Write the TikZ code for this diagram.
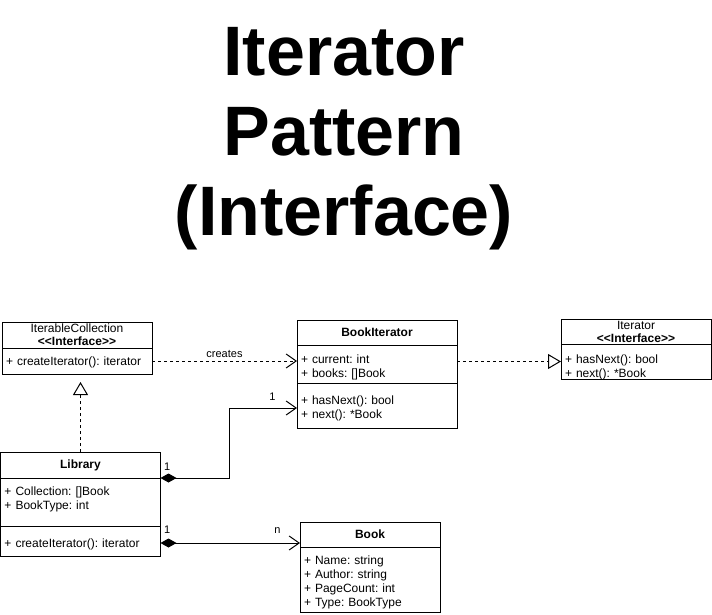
\documentclass[tikz,border=0pt]{standalone}
\usepackage{fontspec}
\setmainfont{Liberation Sans}
\usetikzlibrary{positioning}
\usetikzlibrary{arrows.meta}
\frenchspacing
\newcommand{\Iface}{\textbf{<{}<Interface>{}>}}
\newcommand{\Small}{\fontsize{12}{13}\selectfont}
\newcommand{\Tiny}{\fontsize{11}{13}\selectfont}
\tikzstyle{head} = [draw, align=center, inner sep=0pt, outer sep=0pt, font=\Small]
\tikzstyle{headB} = [head, font=\Small\bfseries]
\tikzstyle{body} = [draw, align=left, inner xsep=4pt, inner ysep=0pt, outer sep=0pt, font=\fontsize{12}{14}\selectfont]
\tikzstyle{dep} = [dashed, -{Straight Barb[length=10pt,width=14pt]}]
\tikzstyle{real} = [dashed, -{Triangle[open,length=13pt,width=15pt,fill=white]}]
\tikzstyle{comp} = [{Diamond[length=16pt,width=9pt]}-{Straight Barb[length=10pt,width=14pt]}]
\tikzstyle{mult} = [inner sep=0pt, font=\Tiny]

\begin{document}
\begin{tikzpicture}[x=1pt, y=-1pt, line width=1pt]
\useasboundingbox[fill=white] (0,0) rectangle (712,615);

% Title
\node[font=\fontsize{70}{80}\selectfont\bfseries, align=center, anchor=base] (title) at (344,235) {Iterator\\Pattern\\(Interface)};

% Define nodes
\node[head, minimum width=150pt, minimum height=26pt, anchor=north west] (ich) at (2,322) {IterableCollection\\\Iface};
\node[body, below=0pt of ich, text width=142pt, text height=17pt, text depth=9pt]   (icm) {+ createIterator(): iterator};

\node[headB, minimum width=160pt, minimum height=25pt, anchor=north west] (bih) at (297,320) {BookIterator};
\node[body, below=0pt of bih, text width=152pt, text height=18pt, text depth=20pt]  (bia) {+ current: int\\+ books: []Book};
\node[body, below=0pt of bia, text width=152pt, text height=21pt, text depth=24pt]  (bim) {+ hasNext(): bool\\+ next(): *Book};

\node[head, minimum width=150pt, minimum height=25pt, anchor=north west] (ith) at (561,319) {Iterator\\\Iface};
\node[body, below=0pt of ith, text width=142pt, text height=19pt, text depth=16pt]  (itm) {+ hasNext(): bool\\+ next(): *Book};

\node[headB, minimum width=160pt, minimum height=26pt, anchor=north west] (libh) at (0.5,452) {Library};
\node[body, below=0pt of libh, text width=152pt, text height=17pt, text depth=31pt] (liba) {+ Collection: []Book\\+ BookType: int};
\node[body, below=0pt of liba, text width=152pt, text height=21pt, text depth=9pt]  (libm) {+ createIterator(): iterator};

\node[headB, minimum width=140pt, minimum height=25pt, anchor=north west] (bkh) at (300,522) {Book};
\node[body, below=0pt of bkh, text width=132pt, text height=17pt, text depth=48pt]  (bka) {+ Name: string\\+ Author: string\\+ PageCount: int\\+ Type: BookType};

% Edges
\draw[dep] (icm.east) -- node[midway, above, font=\Tiny] (cr) {creates} (icm.east -| bia.west);
\draw[real, shorten >=8pt] (libh.north) -- (libh.north |- icm.south);
\draw[real] (bia.east |- itm.west) -- (itm.west);
\draw[comp] (libh.south east) -- node[pos=0, mult, above right=7pt and 3pt] (m1) {1} ++(69,0)
  |- ([yshift=-2.5pt]bim.west) node[mult, above left=7pt and 21pt] (m2) {1};
\draw[comp] ([yshift=-2pt]libm.east) -- node[pos=0, mult, above right=9pt and 3pt] (m3) {1}
  ([yshift=-2pt]libm.east -| bkh.west) node[mult, above left=9pt and 19pt] (m4) {n};
\end{tikzpicture}
\end{document}
